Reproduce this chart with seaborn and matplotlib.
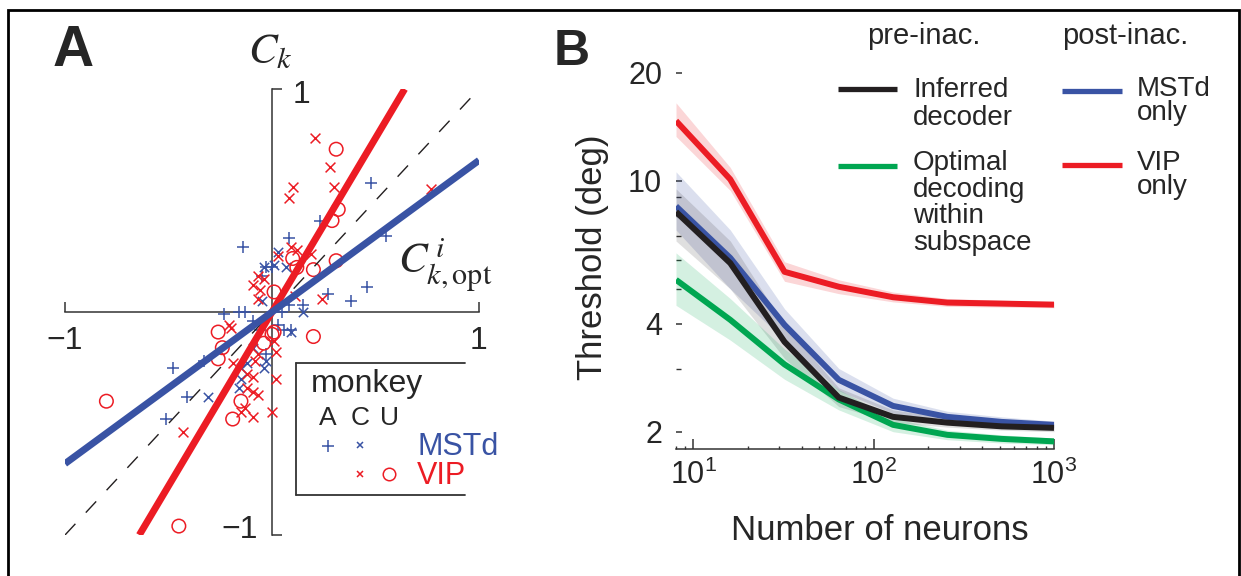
import numpy as np
import pandas as pd
import matplotlib
matplotlib.use("Agg")
import matplotlib.pyplot as plt
import seaborn as sns
from matplotlib.lines import Line2D
from matplotlib.patches import Rectangle
from matplotlib.ticker import FixedLocator, FixedFormatter, NullFormatter, LogLocator

# ---------------- Panel A data (C_k,opt^i vs C_k) ----------------
mstd_A_x = [0.48, 0.23, 0.55, -0.14, 0.08, 0.46, 0.27, 0.00, -0.03, -0.05, 0.08, 0.15, 0.38,
            -0.23, -0.16, -0.13, -0.09, 0.05, 0.06, 0.03, -0.06, 0.09, -0.03, -0.48, -0.33,
            -0.41, -0.51]
mstd_A_y = [0.58, 0.41, 0.34, 0.29, 0.33, 0.11, 0.08, 0.20, 0.20, 0.16, 0.03, 0.03, 0.05,
            -0.01, 0.00, 0.00, -0.04, 0.00, -0.08, -0.06, -0.08, -0.08, -0.19, -0.25, -0.22,
            -0.38, -0.48]
mstd_C_x = [0.03, -0.04, 0.07, 0.01, -0.05, 0.15, 0.09, -0.09, -0.04, -0.03, -0.12, -0.15,
            -0.15, -0.16, -0.31]
mstd_C_y = [0.27, 0.20, 0.20, 0.21, 0.05, 0.00, -0.09, -0.16, -0.25, -0.22, -0.23, -0.25,
            -0.30, -0.34, -0.38]
vip_C_x = [0.21, 0.28, 0.30, 0.10, 0.08, 0.77, 0.19, 0.03, 0.09, -0.09, -0.04, -0.06, 0.12,
           -0.07, -0.07, 0.11, 0.24, -0.21, 0.01, -0.20, 0.02, -0.07, -0.08, -0.19, -0.12,
           -0.09, 0.02, -0.12, -0.09, -0.07, -0.13, -0.15, -0.09, 0.00, -0.43]
vip_C_y = [0.78, 0.65, 0.56, 0.56, 0.51, 0.55, 0.26, 0.25, 0.29, 0.12, 0.15, 0.10, 0.28,
           0.16, 0.06, 0.07, 0.06, -0.06, -0.13, -0.07, -0.18, -0.19, -0.22, -0.23, -0.28,
           -0.29, -0.30, -0.34, -0.36, -0.37, -0.43, -0.45, -0.47, -0.45, -0.54]
vip_U_x = [0.31, 0.32, 0.29, 0.31, 0.20, 0.10, 0.12, 0.01, -0.26, 0.20, 0.01, -0.24, -0.26,
           0.00, -0.04, -0.15, -0.19, -0.80, -0.45]
vip_U_y = [0.73, 0.46, 0.41, 0.23, 0.19, 0.24, 0.20, 0.09, -0.09, -0.11, -0.09, -0.16, -0.21,
           -0.10, -0.14, -0.40, -0.48, -0.40, -0.96]
slope_vip = 1.56
slope_mstd = 0.68

# ---------------- Panel B data (threshold vs number of neurons) ----------------
n_neurons = [8, 16, 32, 64, 128, 256, 512, 1000]
thr_inferred = [8.2, 5.9, 3.56, 2.49, 2.2, 2.12, 2.07, 2.05]
thr_inferred_lo = [6.8, 5.0, 3.2, 2.35, 2.12, 2.06, 2.02, 2.0]
thr_inferred_hi = [9.5, 6.8, 3.95, 2.65, 2.3, 2.19, 2.13, 2.1]
thr_optimal = [5.3, 4.1, 3.08, 2.46, 2.09, 1.96, 1.91, 1.88]
thr_optimal_lo = [4.5, 3.6, 2.8, 2.3, 2.0, 1.9, 1.86, 1.84]
thr_optimal_hi = [6.3, 4.7, 3.4, 2.62, 2.18, 2.02, 1.96, 1.92]
thr_mstd = [8.5, 6.1, 3.97, 2.79, 2.36, 2.2, 2.13, 2.09]
thr_mstd_lo = [7.3, 5.0, 3.6, 2.6, 2.25, 2.13, 2.08, 2.05]
thr_mstd_hi = [10.6, 7.3, 4.4, 3.0, 2.48, 2.28, 2.2, 2.14]
thr_vip = [14.7, 10.1, 5.58, 5.07, 4.74, 4.58, 4.55, 4.52]
thr_vip_lo = [13.3, 9.4, 5.25, 4.85, 4.6, 4.47, 4.45, 4.43]
thr_vip_hi = [16.5, 10.9, 5.95, 5.3, 4.9, 4.7, 4.65, 4.6]
y_major = [2, 4, 10, 20]
y_major_labels = ["2", "4", "10", "20"]
y_minor = [3, 5, 6, 7, 8, 9]

RED = "#EC1C24"
BLUE = "#3953A4"
GREEN = "#00A651"
BLACK = "#231F20"
AX = "#333333"

sns.set_theme(style="white")
plt.rcParams["font.family"] = ["Liberation Sans", "DejaVu Sans"]
plt.rcParams["mathtext.fontset"] = "stix"

W, H = 1241, 576
fig = plt.figure(figsize=(W / 100, H / 100), dpi=100)


def fx(px):
    return px / W


def fy(py):
    return 1 - py / H


def ftext(px, py, s, **kw):
    return fig.text(fx(px), fy(py), s, **kw)


# figure frame
fig.add_artist(Rectangle((fx(8), -0.05), fx(1239) - fx(8), fy(10) + 0.05,
                         transform=fig.transFigure, fill=False, lw=2, color="black"))

# ======================= Panel A =======================
axA = fig.add_axes([fx(65), fy(535), (479 - 65) / W, (535 - 89) / H])
axA.set_xlim(-1, 1)
axA.set_ylim(-1, 1)
axA.patch.set_alpha(0)
for s in ["top", "right"]:
    axA.spines[s].set_visible(False)
for s in ["left", "bottom"]:
    axA.spines[s].set_position("zero")
    axA.spines[s].set_color(AX)
    axA.spines[s].set_linewidth(1.1)
axA.set_xticks([-1, 1])
axA.set_xticklabels(["\u22121", "1"])
axA.set_yticks([-1, 1])
axA.tick_params(axis="both", direction="in", length=7, width=1.1, color=AX,
                labelsize=23, pad=10, bottom=True, left=True)
axA.tick_params(axis="y", labelleft=False)

ms_kw = dict(ax=axA, linewidth=1.1, zorder=3)
sns.scatterplot(x=mstd_A_x, y=mstd_A_y, marker="+", color=BLUE, s=70, **ms_kw)
sns.scatterplot(x=mstd_C_x, y=mstd_C_y, marker="x", color=BLUE, s=45, **ms_kw)
sns.scatterplot(x=vip_C_x, y=vip_C_y, marker="x", color=RED, s=50, **ms_kw)
sns.scatterplot(x=vip_U_x, y=vip_U_y, marker="o", facecolor="none", edgecolor=RED,
                s=95, **ms_kw)

axA.plot([-1, 1], [-1, 1], color=BLACK, lw=1.0, dashes=(11, 11), zorder=4)
xr = 1 / slope_vip
axA.plot([-xr, xr], [-1, 1], color=RED, lw=5, solid_capstyle="butt", zorder=5)
axA.plot([-1, 1], [-slope_mstd, slope_mstd], color=BLUE, lw=5,
         solid_capstyle="butt", zorder=5)
axA.set_xlabel("")
axA.set_ylabel("")

ftext(293, 95, "1", fontsize=23, ha="left", va="center")
ftext(258, 530, "\u22121", fontsize=23, ha="right", va="center")
ftext(270, 52, r"$C_k$", fontsize=31, ha="center", va="center")
ftext(398, 265, r"$C^{\,i}_{k,\mathrm{opt}}$", fontsize=31, ha="left", va="center")
ftext(53, 66, "A", fontsize=41, fontweight="bold", ha="left", va="baseline")

# legend box (A)
for (x0, y0, x1, y1) in [(296, 363, 465, 363), (296, 495, 465, 495), (296, 363, 296, 495)]:
    fig.add_artist(Line2D([fx(x0), fx(x1)], [fy(y0), fy(y1)], transform=fig.transFigure,
                          color=AX, lw=1.3))
ftext(311, 392, "monkey", fontsize=23, ha="left", va="baseline")
for px, s in [(328, "A"), (360, "C"), (390, "U")]:
    ftext(px, 425, s, fontsize=19, ha="center", va="baseline")
fig.add_artist(Line2D([fx(328)], [fy(446)], marker="+", ms=9, mew=1.1, color=BLUE,
                      transform=fig.transFigure, ls="none"))
fig.add_artist(Line2D([fx(360)], [fy(445)], marker="x", ms=5, mew=1.1, color=BLUE,
                      transform=fig.transFigure, ls="none"))
fig.add_artist(Line2D([fx(360)], [fy(474)], marker="x", ms=5, mew=1.1, color=RED,
                      transform=fig.transFigure, ls="none"))
fig.add_artist(Line2D([fx(389)], [fy(474)], marker="o", ms=9, mew=1.1, mfc="none",
                      mec=RED, transform=fig.transFigure, ls="none"))
ftext(417, 455, "MSTd", fontsize=22, color=BLUE, ha="left", va="baseline")
ftext(417, 484, "VIP", fontsize=22, color=RED, ha="left", va="baseline")

# ======================= Panel B =======================
axB = fig.add_axes([fx(676), fy(449), (1054 - 676) / W, (449 - 58) / H])
axB.set_xscale("log")
axB.set_yscale("log")

bands = [
    (thr_mstd_lo, thr_mstd_hi, BLUE, 0.18),
    (thr_inferred_lo, thr_inferred_hi, BLACK, 0.14),
    (thr_optimal_lo, thr_optimal_hi, GREEN, 0.17),
    (thr_vip_lo, thr_vip_hi, RED, 0.18),
]
for lo, hi, c, a in bands:
    axB.fill_between(n_neurons, lo, hi, color=c, alpha=a, lw=0)

df = pd.concat([
    pd.DataFrame({"n": n_neurons, "thr": thr_optimal, "series": "optimal"}),
    pd.DataFrame({"n": n_neurons, "thr": thr_mstd, "series": "mstd"}),
    pd.DataFrame({"n": n_neurons, "thr": thr_inferred, "series": "inferred"}),
    pd.DataFrame({"n": n_neurons, "thr": thr_vip, "series": "vip"}),
])
sns.lineplot(data=df, x="n", y="thr", hue="series",
             hue_order=["optimal", "mstd", "inferred", "vip"],
             palette={"optimal": GREEN, "mstd": BLUE, "inferred": BLACK, "vip": RED},
             lw=4.3, legend=False, ax=axB, solid_capstyle="butt")

axB.set_xlim(8, 1000)
axB.set_ylim(1.79, 22)
axB.patch.set_alpha(0)
for s in ["top", "right", "left"]:
    axB.spines[s].set_visible(False)
axB.spines["bottom"].set_color(AX)
axB.spines["bottom"].set_linewidth(1.1)

axB.yaxis.set_major_locator(FixedLocator(y_major))
axB.yaxis.set_major_formatter(FixedFormatter(y_major_labels))
axB.yaxis.set_minor_locator(FixedLocator(y_minor))
axB.yaxis.set_minor_formatter(NullFormatter())
axB.xaxis.set_major_locator(LogLocator(base=10, numticks=10))
axB.xaxis.set_minor_locator(LogLocator(base=10, subs=np.arange(2, 10), numticks=10))
axB.xaxis.set_minor_formatter(NullFormatter())

axB.tick_params(axis="x", which="major", direction="in", length=7, width=1.1, color=AX,
                labelsize=22, pad=8, bottom=True)
axB.tick_params(axis="x", which="minor", direction="in", length=2.5, width=1.0, color=AX,
                bottom=True)
axB.tick_params(axis="y", which="major", direction="in", length=4.5, width=1.1, color=AX,
                labelsize=22, pad=10, left=True)
axB.tick_params(axis="y", which="minor", direction="in", length=3.5, width=1.0, color=AX,
                left=True)

axB.set_xlabel("Number of neurons", fontsize=25)
axB.set_ylabel("Threshold (deg)", fontsize=25)
axB.xaxis.set_label_coords(0.54, -0.165)
axB.yaxis.set_label_coords(-0.178, 0.49)

ftext(554, 65, "B", fontsize=36, fontweight="bold", ha="left", va="baseline")

# legend (B)
ftext(867, 44, "pre-inac.", fontsize=21, ha="left", va="baseline")
ftext(1062, 44, "post-inac.", fontsize=21, ha="left", va="baseline")
for (x0, x1, y, c) in [(838, 897, 89, BLACK), (838, 897, 166, GREEN),
                       (1062, 1122, 91, BLUE), (1062, 1122, 165, RED)]:
    fig.add_artist(Line2D([fx(x0), fx(x1)], [fy(y), fy(y)], transform=fig.transFigure,
                          color=c, lw=3.8, solid_capstyle="butt"))


def lines_at(px, py0, step, texts, **kw):
    for i, t in enumerate(texts):
        ftext(px, py0 + i * step, t, ha="left", va="baseline", **kw)


lines_at(913, 97, 28, ["Inferred", "decoder"], fontsize=20)
lines_at(913, 170, 26.7, ["Optimal", "decoding", "within", "subspace"], fontsize=20)
lines_at(1137, 96, 24, ["MSTd", "only"], fontsize=20)
lines_at(1137, 170, 24, ["VIP", "only"], fontsize=20)

fig.savefig("out.png", dpi=100)
